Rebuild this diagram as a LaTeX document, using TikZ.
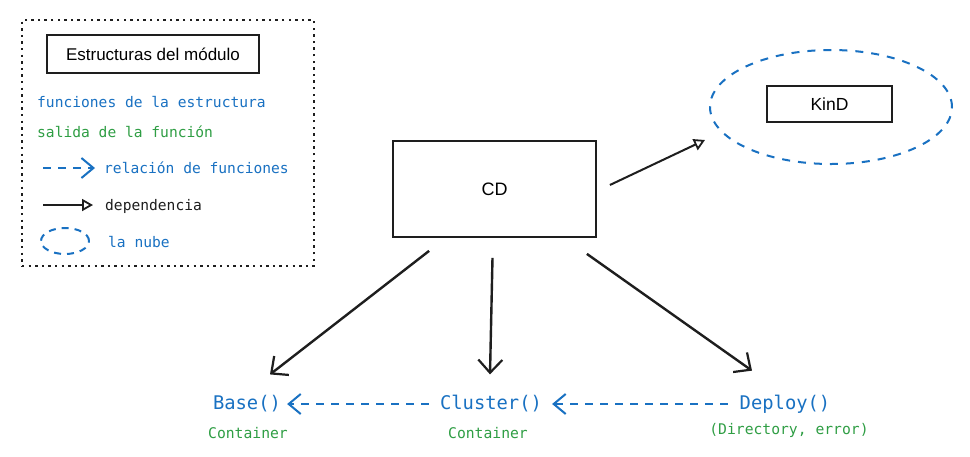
\documentclass[tikz,border=0pt]{standalone}
\usepackage{fontspec}
\setmainfont{Liberation Sans}
\newfontfamily\codefont{DejaVu Sans Mono}
\usetikzlibrary{arrows.meta,shapes.geometric}
\definecolor{xblue}{HTML}{1971C2}
\definecolor{xgreen}{HTML}{2F9E44}
\definecolor{xdark}{HTML}{1E1E1E}
\tikzset{
  boxed/.style={draw=xdark,line width=1.8pt,inner sep=0pt},
  fn/.style={text=xblue,font=\codefont\fontsize{18.8}{22}\selectfont,inner sep=0pt},
  fnout/.style={text=xgreen,font=\codefont\fontsize{14.7}{17}\selectfont,inner sep=0pt},
  legblue/.style={text=xblue,font=\codefont\fontsize{14.6}{17}\selectfont,inner sep=0pt,anchor=west},
  leggreen/.style={text=xgreen,font=\codefont\fontsize{14.6}{17}\selectfont,inner sep=0pt,anchor=west},
  legblack/.style={text=xdark,font=\codefont\fontsize{14.6}{17}\selectfont,inner sep=0pt,anchor=west},
  dep/.style={draw=xdark,line width=2.4pt,-{Straight Barb[length=13pt,width=24pt,line width=2.2pt]}},
  rel/.style={draw=xblue,line width=2pt,dash pattern=on 8pt off 7pt,-{Straight Barb[length=12pt,width=20pt,line width=2pt]}},
  uses/.style={draw=xdark,line width=2pt,-{Triangle[open,length=11pt,width=12pt,line width=1.8pt]}},
  cloud/.style={ellipse,draw=xblue,line width=2pt,dash pattern=on 8pt off 8pt,inner sep=0pt},
}
\begin{document}
\begin{tikzpicture}[x=1pt,y=-1pt]
\useasboundingbox[fill=white] (0,0) rectangle (970,456);
% legend
\node[draw=xdark,line width=2.4pt,dash pattern=on 2.4pt off 4.2pt,minimum width=292pt,minimum height=246pt,inner sep=0pt] (legend) at (168,143) {};
\node[boxed,minimum width=212pt,minimum height=38pt,font=\fontsize{17}{19}\selectfont] (title) at (153,54) {Estructuras del módulo};
\node[legblue] (l1) at (37,102) {funciones de la estructura};
\node[leggreen] (l2) at (37,132) {salida de la función};
\coordinate (r1) at (43,168); \coordinate (r2) at (95,168);
\draw[rel] (r1) -- (r2);
\node[legblue] (l3) at (104,168) {relación de funciones};
\coordinate (d1) at (43,205); \coordinate (d2) at (93,205);
\draw[uses] (d1) -- (d2);
\node[legblack] (l4) at (105,206) {dependencia};
\node[cloud,minimum width=48pt,minimum height=26pt,dash pattern=on 7pt off 6pt] (smallcloud) at (65,241) {};
\node[legblue] (l5) at (108,242) {la nube};
% main
\node[boxed,minimum width=203pt,minimum height=96pt,font=\fontsize{18}{21}\selectfont] (cd) at (494.5,189) {CD};
\node[cloud,minimum width=242pt,minimum height=114pt] (nube) at (831,107) {};
\node[boxed,minimum width=125pt,minimum height=36pt,font=\fontsize{17.5}{20}\selectfont] (kind) at (829.5,104) {KinD};
\node[fn] (base) at (247,404) {Base()};
\node[fn] (cluster) at (491,404) {Cluster()};
\node[fn] (deploy) at (785,404) {Deploy()};
\node[fnout] (o1) at (248,433) {Container};
\node[fnout] (o2) at (488,433) {Container};
\node[fnout] (o3) at (789,430) {(Directory, error)};
% connectors
\draw[uses] ([shift={(13,-4)}]cd.east) -- ([shift={(-4,33)}]nube.west);
\draw[dep] ([shift={(37,13)}]cd.south west) -- ([shift={(23,-21)}]base.north);
\draw[dep] ([shift={(-2,20)}]cd.south) -- ([shift={(-1,-21)}]cluster.north);
\draw[dep] ([shift={(-10,16)}]cd.south east) -- ([shift={(-33,-24)}]deploy.north);
\draw[rel] ([xshift=-12pt]deploy.west) -- ([xshift=10pt]cluster.east);
\draw[rel] ([xshift=-11pt]cluster.west) -- ([xshift=6pt]base.east);
\end{tikzpicture}
\end{document}
